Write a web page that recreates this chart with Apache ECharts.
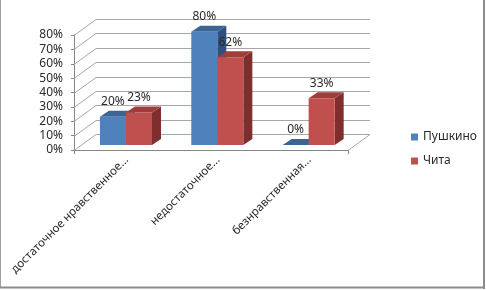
<!DOCTYPE html>
<html>
<head>
<meta charset="utf-8">
<script src="https://cdn.jsdelivr.net/npm/echarts@6/dist/echarts.min.js"></script>
<style>
html,body{margin:0;padding:0;background:#fff;}
#chart{width:486px;height:290px;}
</style>
</head>
<body>
<div id="chart"></div>
<script>
const categories = ['достаточное нравственное...', 'недостаточное...', 'безнравственная...'];
const seriesNames = ['Пушкино', 'Чита'];
const pushkino = [20, 80, 0];
const chita = [23, 62, 33];
const yTicks = [0, 10, 20, 30, 40, 50, 60, 70, 80];

const FONT = '"Noto Sans", "DejaVu Sans", sans-serif';
const DEPTH_DX = 22, DEPTH_DY = -16;      // wall depth
const BAR_DX = 9, BAR_DY = -6;            // bar depth
const TEXT = '#2a2a2a';

const palettes = [
  {front: '#4F81BD', top: '#3A6594', side: '#2F5180'},
  {front: '#C0504D', top: '#9E3D3A', side: '#7E2F2D'}
];

function barRender(sIdx) {
  const pal = palettes[sIdx];
  return function (params, api) {
    const i = api.value(0), v = api.value(1);
    const base = api.coord([i, 0]);
    const top = api.coord([i, v]);
    const band = api.size([1, 0])[0];
    const bw = band * 0.285;
    const cx = base[0] + band * 0.069;
    const x0 = cx - bw + sIdx * bw;
    const yb = base[1] - 5;
    const yt = yb - (base[1] - top[1]) * 0.985;
    const children = [];
    children.push({type: 'polygon', shape: {points: [[x0 + bw, yb], [x0 + bw + BAR_DX, yb + BAR_DY], [x0 + bw + BAR_DX, yt + BAR_DY], [x0 + bw, yt]]}, style: {fill: pal.side}});
    children.push({type: 'polygon', shape: {points: [[x0, yt], [x0 + bw, yt], [x0 + bw + BAR_DX, yt + BAR_DY], [x0 + BAR_DX, yt + BAR_DY]]}, style: {fill: pal.top}});
    if (yb - yt > 0.5) {
      children.push({type: 'rect', shape: {x: x0, y: yt, width: bw, height: yb - yt}, style: {fill: pal.front}});
    }
    children.push({type: 'text', x: x0 + bw / 2, y: yt - 15, style: {text: v + '%', align: 'center', verticalAlign: 'middle', fill: TEXT, font: '12px ' + FONT}});
    return {type: 'group', children: children};
  };
}

function wallRender(params, api) {
  const cs = params.coordSys;
  const children = [];
  const stroke = {stroke: '#a6a6a6', lineWidth: 1, fill: null};
  yTicks.forEach(function (t) {
    const y = Math.round(api.coord([0, t])[1]) + 0.5;
    children.push({type: 'polyline', shape: {points: [[cs.x, y], [cs.x + DEPTH_DX, y + DEPTH_DY], [cs.x + cs.width + DEPTH_DX, y + DEPTH_DY]]}, style: stroke});
  });
  const yb = Math.round(api.coord([0, 0])[1]) + 0.5;
  children.push({type: 'line', shape: {x1: cs.x + cs.width, y1: yb, x2: cs.x + cs.width + DEPTH_DX, y2: yb + DEPTH_DY}, style: stroke});
  return {type: 'group', children: children};
}

function catLabelRender(params, api) {
  const i = api.value(0);
  const p = api.coord([i, 0]);
  return {type: 'text', x: p[0] + 7, y: p[1] + 8, rotation: Math.PI / 4,
    style: {text: categories[i], align: 'right', verticalAlign: 'middle', fill: TEXT, font: '11.5px ' + FONT}};
}

const chart = echarts.init(document.getElementById('chart'), null, {renderer: 'canvas'});
chart.setOption({
  animation: false,
  backgroundColor: '#ffffff',
  textStyle: {fontFamily: FONT},
  grid: {left: 74, right: 138, top: 35, bottom: 140},
  legend: {
    orient: 'vertical', left: 406, top: 125, itemWidth: 7, itemHeight: 7, itemGap: 10,
    icon: 'rect', data: seriesNames,
    textStyle: {fontSize: 12, color: TEXT, fontFamily: FONT, lineHeight: 14}
  },
  xAxis: {
    type: 'category', data: categories, boundaryGap: true,
    axisLine: {lineStyle: {color: '#868686'}},
    axisTick: {show: true, length: 4, alignWithLabel: false, lineStyle: {color: '#868686'}},
    axisLabel: {show: false},
    splitLine: {show: false}
  },
  yAxis: {
    type: 'value', min: 0, max: 80, interval: 10,
    axisLine: {show: true, lineStyle: {color: '#868686'}},
    axisTick: {show: true, length: 3, lineStyle: {color: '#868686'}},
    axisLabel: {formatter: '{value}%', fontSize: 12, color: TEXT, margin: 11, fontFamily: FONT},
    splitLine: {show: false}
  },
  graphic: [
    {type: 'line', shape: {x1: 0.5, y1: 0, x2: 0.5, y2: 288}, style: {stroke: '#a0a0a0', lineWidth: 1}},
    {type: 'line', shape: {x1: 484, y1: 0, x2: 484, y2: 289}, style: {stroke: '#8c8c8c', lineWidth: 2}},
    {type: 'line', shape: {x1: 0, y1: 287.5, x2: 485, y2: 287.5}, style: {stroke: '#8c8c8c', lineWidth: 2}}
  ],
  series: [
    {type: 'custom', name: '_wall', renderItem: wallRender, data: [[0, 0]], z: 1, silent: true, clip: false},
    {type: 'custom', name: seriesNames[0], renderItem: barRender(0), data: pushkino.map(function (v, i) { return [i, v]; }), z: 2, clip: false, itemStyle: {color: palettes[0].front}},
    {type: 'custom', name: seriesNames[1], renderItem: barRender(1), data: chita.map(function (v, i) { return [i, v]; }), z: 3, clip: false, itemStyle: {color: palettes[1].front}},
    {type: 'custom', name: '_labels', renderItem: catLabelRender, data: categories.map(function (c, i) { return [i, 0]; }), z: 4, silent: true, clip: false}
  ]
});
</script>
</body>
</html>
